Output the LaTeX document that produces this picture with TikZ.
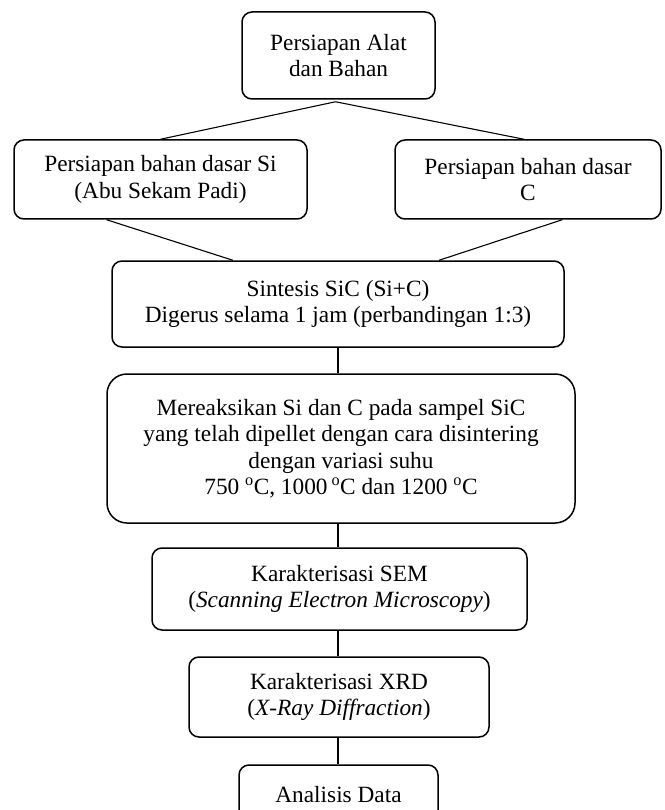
\documentclass[tikz,border=0pt]{standalone}
\usepackage{fontspec}
\setmainfont{Liberation Serif}
\usetikzlibrary{calc}
\begin{document}
\begin{tikzpicture}[x=1pt,y=-1pt,
  box/.style={draw, line width=1.5pt, rounded corners=10pt, align=center, inner sep=0pt,
    font=\fontsize{23.3}{26.5}\selectfont},
  link/.style={line width=1.1pt}]
\useasboundingbox (0,0) rectangle (664,810);
\clip (0,0) rectangle (664,810);
\fill[white] (0,0) rectangle (664,810);
\node[box, minimum width=193pt, minimum height=87pt] (b1) at (338.5,55.5) {Persiapan Alat\\dan Bahan};
\node[box, minimum width=293pt, minimum height=79pt] (b2) at (160.5,179.5) {Persiapan bahan dasar Si\\(Abu Sekam Padi)};
\node[box, minimum width=266pt, minimum height=79pt] (b3) at (528,179.5) {Persiapan bahan dasar\\C};
\node[box, minimum width=452pt, minimum height=86pt] (b4) at (338,304) {Sintesis SiC (Si+C)\\Digerus selama 1 jam (perbandingan 1:3)};
\node[box, rounded corners=20pt, minimum width=468pt, minimum height=149pt] (b5) at (341,448.5) {Mereaksikan Si dan C pada sampel SiC\\yang telah dipellet dengan cara disintering\\dengan variasi suhu\\750~\textsuperscript{o}C, 1000\,\textsuperscript{o}C dan 1200~\textsuperscript{o}C};
\node[box, minimum width=375pt, minimum height=82pt] (b6) at (339.5,589) {Karakterisasi SEM\\(\textit{Scanning Electron Microscopy})};
\node[box, minimum width=300pt, minimum height=80pt] (b7) at (339,697) {Karakterisasi XRD\\(\textit{X-Ray Diffraction})};
\node[box, minimum width=199pt, minimum height=60pt] (b8) at (338.5,795) {Analisis Data};
\draw[link] ($(b1.south)+(-3,2)$) -- ($(b2.north)+(0,0)$);
\draw[link] ($(b1.south)+(-3,2)$) -- ($(b3.north)+(-4,0)$);
\draw[link] ($(b2.south west)!0.317!(b2.south east)$) -- ($(b4.north west)!0.268!(b4.north east)$);
\draw[link] ($(b3.south west)!0.628!(b3.south east)$) -- ($(b4.north west)!0.723!(b4.north east)$);
\draw[link, line width=1.4pt] (b4.south) -- (b4.south |- b5.north);
\draw[link, line width=1.4pt] (b4.south |- b5.south) -- (b4.south |- b6.north);
\draw[link, line width=1.4pt] (b4.south |- b6.south) -- (b4.south |- b7.north);
\draw[link, line width=1.4pt] (b4.south |- b7.south) -- (b4.south |- b8.north);
\end{tikzpicture}
\end{document}
